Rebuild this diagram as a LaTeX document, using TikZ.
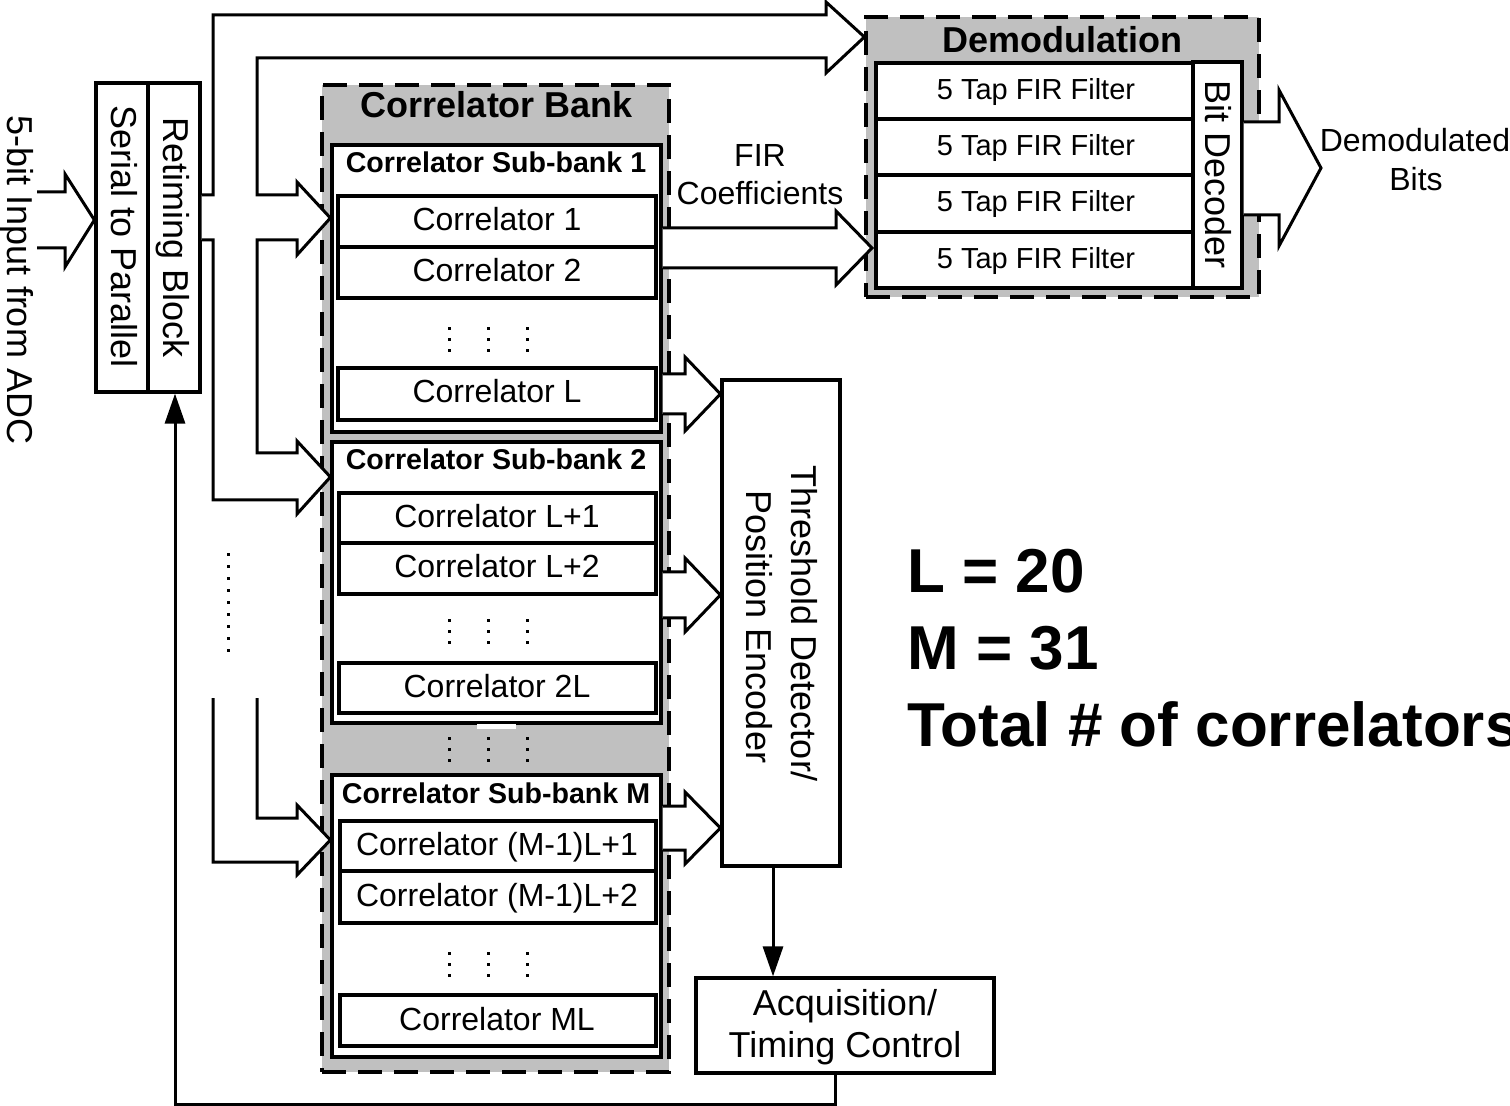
\documentclass[tikz,border=0pt]{standalone}
\usepackage{fontspec}
\setmainfont{Liberation Sans}
\usetikzlibrary{arrows.meta,fit}
\definecolor{bankgray}{RGB}{192,192,192}
\tikzset{
  box/.style={draw, line width=1.6pt, fill=white, inner sep=0pt},
  dbox/.style={draw, line width=1.6pt, fill=bankgray, dash pattern=on 12pt off 6pt, inner sep=0pt},
  barrow/.style={draw, line width=1.5pt, fill=white, line join=miter, miter limit=10},
  wire/.style={draw, line width=1.5pt, -{Triangle[length=15pt,width=10pt]}},
  txt/.style={inner sep=0pt, anchor=base, font=\fontsize{18pt}{21pt}\selectfont},
  ctxt/.style={inner sep=0pt, anchor=base, font=\fontsize{16pt}{19pt}\selectfont},
  ftxt/.style={inner sep=0pt, anchor=base, font=\fontsize{14.5pt}{17pt}\selectfont},
  stitle/.style={inner sep=0pt, anchor=base, font=\bfseries\fontsize{14.3pt}{17pt}\selectfont},
  btitle/.style={inner sep=0pt, anchor=base, font=\bfseries\fontsize{18pt}{21pt}\selectfont},
  bigtxt/.style={inner sep=0pt, anchor=base west, font=\bfseries\fontsize{31pt}{37pt}\selectfont},
}
\begin{document}
\begin{tikzpicture}[x=0.5pt,y=-0.5pt]
\useasboundingbox (0,0) rectangle (1510,1106);

% ---------- dashed grouping boxes ----------
\node[dbox, fit={(322,85) (669,1072)}] (bank) {};
\node[dbox, fit={(866,17) (1259,297)}] (demod) {};

% ---------- input blocks ----------
\node[box, fit={(96,83) (148,392)}] (sp) {};
\node[box, fit={(148,83) (200,392)}] (rt) {};

% ---------- sub-banks ----------
\node[box, fit={(332,145) (661,432)}] (sb1) {};
\node[box, fit={(338,196) (656,247)}] (c1) {};
\node[box, fit={(338,247) (656,298)}] (c2) {};
\node[box, fit={(338,368) (656,420)}] (cL) {};

\node[box, fit={(332,442) (661,723)}] (sb2) {};
\node[box, fit={(339,493) (656,543)}] (cL1) {};
\node[box, fit={(339,543) (656,594)}] (cL2) {};
\node[box, fit={(339,663) (656,713)}] (c2L) {};
\fill[white] (477,724) rectangle (516,729);

\node[box, fit={(332,775) (661,1057)}] (sbM) {};
\node[box, fit={(340,821) (656,871)}] (cM1) {};
\node[box, fit={(340,871) (656,923)}] (cM2) {};
\node[box, fit={(340,995) (656,1046)}] (cML) {};

% ---------- demodulation ----------
\node[box, fit={(876,63) (1193,119)}] (f1) {};
\node[box, fit={(876,119) (1193,175)}] (f2) {};
\node[box, fit={(876,175) (1193,232)}] (f3) {};
\node[box, fit={(876,232) (1193,288)}] (f4) {};
\node[box, fit={(1193,62) (1242,288)}] (bd) {};

% ---------- detector / control ----------
\node[box, fit={(722,380) (840,866)}] (thr) {};
\node[box, fit={(696,978) (994,1073)}] (acq) {};

% ---------- bus from retiming block ----------
\draw[barrow] (rt.east |- 0,195) -- (213,195) -- (213,15) -- (826,15) -- (826,2)
  -- (demod.west |- 0,37) -- (826,73) -- (826,58) -- (257,58) -- (257,195)
  -- (297,195) -- (297,182) -- (sb1.west |- 0,218) -- (297,255) -- (297,240)
  -- (257,240) -- (257,453) -- (297,453) -- (297,441) -- (sb2.west |- 0,477)
  -- (297,514) -- (297,500) -- (213,500) -- (213,240) -- (rt.east |- 0,240);
\draw[barrow] (213,698) -- (213,862) -- (297,862) -- (297,875) -- (sbM.west |- 0,840)
  -- (297,805) -- (297,818) -- (257,818) -- (257,698);
\foreach \k in {0,...,8} \fill (226.5,555+12*\k-1.5) rectangle (229.5,555+12*\k+1.5);

% ---------- other block arrows ----------
\draw[barrow] (37,192) -- (65,192) -- (65,174) -- (sp.west |- 0,220) -- (65,267) -- (65,248) -- (37,248);
\draw[barrow] (sb1.east |- 0,228) -- (836,228) -- (836,211) -- (872,248) -- (836,285) -- (836,268) -- (sb1.east |- 0,268);
\draw[barrow] (sb1.east |- 0,374) -- (685,374) -- (685,357) -- (thr.west |- 0,394) -- (685,431) -- (685,414) -- (sb1.east |- 0,414);
\draw[barrow] (sb2.east |- 0,572) -- (685,572) -- (685,558) -- (thr.west |- 0,595) -- (685,632) -- (685,618) -- (sb2.east |- 0,618);
\draw[barrow] (sbM.east |- 0,806) -- (685,806) -- (685,792) -- (thr.west |- 0,828) -- (685,864) -- (685,850) -- (sbM.east |- 0,850);
\draw[barrow] (bd.east |- 0,122) -- (1279,122) -- (1279,90) -- (1321,168) -- (1279,246) -- (1279,215) -- (bd.east |- 0,215);

% ---------- thin connectors ----------
\coordinate (tx) at (773,0);
\draw[wire] (thr.south -| tx) -- (acq.north -| tx);
\coordinate (fb1) at (835,1104);
\coordinate (fb2) at (175,1104);
\draw[wire] (acq.south -| fb1) -- (fb1) -- (fb2) -- (rt.south -| fb2);

% ---------- dots ----------
\foreach \yc in {340,632,749,964}
  \foreach \xc in {449,488,527}
    \foreach \d in {-11,0,11}
      \fill (\xc-1.5,\yc+\d-1.5) rectangle (\xc+1.5,\yc+\d+1.5);

% ---------- texts ----------
\node[txt, rotate=-90] (tin) at (8,280) {5-bit Input from ADC};
\node[txt, rotate=-90] (tsp) at (111,237) {Serial to Parallel};
\node[txt, rotate=-90] (trt) at (163,238) {Retiming Block};

\node[btitle] (tbank) at (497,118) {Correlator Bank};
\node[stitle] (tsb1) at (496,173) {Correlator Sub-bank 1};
\node[stitle] (tsb2) at (496,470) {Correlator Sub-bank 2};
\node[stitle] (tsbM) at (496,803) {Correlator Sub-bank M};

\node[ctxt] (tc1) at (497,230.5) {Correlator 1};
\node[ctxt] (tc2) at (497,281.5) {Correlator 2};
\node[ctxt] (tcL) at (497,403) {Correlator L};
\node[ctxt] (tcL1) at (497,527.5) {Correlator L+1};
\node[ctxt] (tcL2) at (497,578) {Correlator L+2};
\node[ctxt] (tc2L) at (497,697.5) {Correlator 2L};
\node[ctxt] (tcM1) at (497,855.5) {Correlator (M-1)L+1};
\node[ctxt] (tcM2) at (497,906) {Correlator (M-1)L+2};
\node[ctxt] (tcML) at (497,1030) {Correlator ML};

\node[btitle] (tdemod) at (1062,53) {Demodulation};
\node[ftxt] (tf1) at (1036,100) {5 Tap FIR Filter};
\node[ftxt] (tf2) at (1036,156) {5 Tap FIR Filter};
\node[ftxt] (tf3) at (1036,212) {5 Tap FIR Filter};
\node[ftxt] (tf4) at (1036,269) {5 Tap FIR Filter};
\node[txt, rotate=-90] (tbd) at (1205,175) {Bit Decoder};

\node[ctxt] (tfir) at (760,167) {FIR};
\node[ctxt] (tcoef) at (760,205) {Coefficients};
\node[ctxt] (tdb1) at (1415,152) {Demodulated};
\node[ctxt] (tdb2) at (1416,191) {Bits};

\node[txt, rotate=-90] (tthr1) at (791,624) {Threshold Detector/};
\node[txt, rotate=-90] (tthr2) at (746,627) {Position Encoder};

\node[txt] (tacq1) at (845,1015) {Acquisition/};
\node[txt] (tacq2) at (845,1057) {Timing Control};

\node[bigtxt] (tL) at (907,593) {L = 20};
\node[bigtxt] (tM) at (907,669) {M = 31};
\node[bigtxt] (ttot) at (907,746) {Total \# of correlators};
\end{tikzpicture}
\end{document}
